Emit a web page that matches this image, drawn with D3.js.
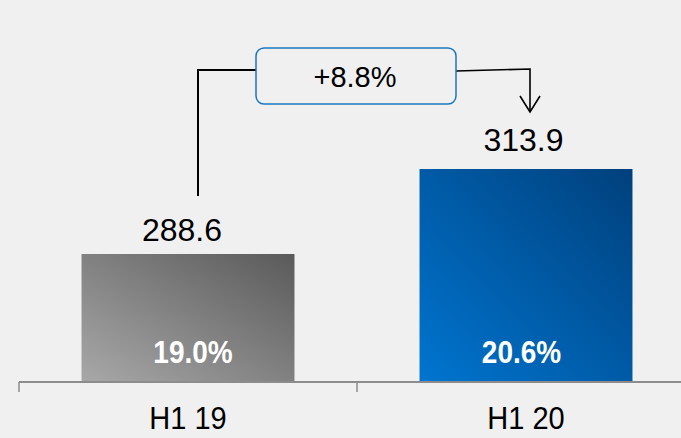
<!DOCTYPE html>
<html><head><meta charset="utf-8">
<script src="https://cdn.jsdelivr.net/npm/d3@7/dist/d3.min.js"></script>
<style>html,body{margin:0;padding:0;background:#f0f0f0;}svg{display:block;font-family:"Liberation Sans",Arial,sans-serif;}</style>
</head><body>
<script>
const categories = ["H1 19", "H1 20"];
const values = [288.6, 313.9];
const valueLabels = ["288.6", "313.9"];
const marginLabels = ["19.0%", "20.6%"];
const changeLabel = "+8.8%";

const W = 681, H = 438;
const svg = d3.select("body").append("svg").attr("width", W).attr("height", H);
svg.append("rect").attr("width", W).attr("height", H).attr("fill", "#f0f0f0");

const axisY = 382;
const x = d3.scaleBand().domain(categories).range([19, 695]).padding(0);
const barW = x.bandwidth() * 0.63;
const y = d3.scaleLinear().domain([250.5, 364.2]).range([axisY, 0]);

const defs = svg.append("defs");
const grads = [
  {id: "g0", from: "#a8a8a8", to: "#5a5a5a"},
  {id: "g1", from: "#0075d0", to: "#00407c"}
];
grads.forEach(g => {
  const lg = defs.append("linearGradient").attr("id", g.id)
    .attr("x1", "0").attr("y1", "1").attr("x2", "1").attr("y2", "0");
  lg.append("stop").attr("offset", "0").attr("stop-color", g.from);
  lg.append("stop").attr("offset", "1").attr("stop-color", g.to);
});

const cx = c => x(c) + x.bandwidth() / 2;

svg.selectAll("rect.bar").data(categories).enter().append("rect")
  .attr("class", "bar")
  .attr("x", c => cx(c) - barW / 2)
  .attr("y", (c, i) => y(values[i]))
  .attr("width", barW)
  .attr("height", (c, i) => axisY - y(values[i]))
  .attr("fill", (c, i) => `url(#g${i})`);

// axis
const ag = svg.append("g").attr("transform", `translate(0,${axisY})`);
ag.append("line").attr("x1", 19).attr("x2", W).attr("y1", 0).attr("y2", 0)
  .attr("stroke", "#8c8c8c").attr("stroke-width", 2);
const tickXs = [19, x(categories[1]), x(categories[1]) + x.bandwidth()];
ag.selectAll("line.tk").data(tickXs).enter().append("line").attr("class", "tk")
  .attr("x1", d => d).attr("x2", d => d).attr("y1", 0).attr("y2", 10)
  .attr("stroke", "#8c8c8c").attr("stroke-width", 1.5);

svg.selectAll("text.cat").data(categories).enter().append("text")
  .attr("transform", c => `translate(${cx(c)},429) scale(1,1.08)`)
  .attr("text-anchor", "middle").attr("font-size", 29).attr("fill", "#000")
  .text(c => c);

svg.selectAll("text.val").data(categories).enter().append("text")
  .attr("x", (c, i) => cx(c) - 6 + i * 3.5).attr("y", (c, i) => y(values[i]) - 13 - i * 4.5)
  .attr("text-anchor", "middle").attr("font-size", 32).attr("fill", "#000")
  .text((c, i) => valueLabels[i]);

svg.selectAll("text.mg").data(categories).enter().append("text")
  .attr("transform", (c, i) => `translate(${cx(c) + 5 - i * 9.5},363) scale(1,1.1)`)
  .attr("text-anchor", "middle").attr("font-size", 28).attr("font-weight", "bold").attr("fill", "#fff")
  .text((c, i) => marginLabels[i]);

// connector
const leftX = cx(categories[0]) + 10;
const rightX = cx(categories[1]) + 4;
const boxL = 256, boxR = 456, boxT = 48, boxB = 104;
svg.append("path")
  .attr("d", `M${leftX},${y(values[0]) - 58} V70 H${boxL}`)
  .attr("fill", "none").attr("stroke", "#000").attr("stroke-width", 2);
svg.append("path")
  .attr("d", `M${boxR},71 L${rightX},69 V${y(values[1]) - 57}`)
  .attr("fill", "none").attr("stroke", "#000").attr("stroke-width", 1.6);
const tipY = y(values[1]) - 57;
svg.append("path")
  .attr("d", `M${rightX - 10},${tipY - 16} L${rightX},${tipY} L${rightX + 10},${tipY - 16}`)
  .attr("fill", "none").attr("stroke", "#000").attr("stroke-width", 1.6);

svg.append("rect").attr("x", boxL).attr("y", boxT).attr("width", boxR - boxL).attr("height", boxB - boxT)
  .attr("rx", 8).attr("fill", "#f0f0f0").attr("stroke", "#1a75c0").attr("stroke-width", 1.5);
svg.append("text").attr("x", 355).attr("y", 86.5)
  .attr("text-anchor", "middle").attr("font-size", 29).attr("fill", "#000").text(changeLabel);
</script>
</body></html>
